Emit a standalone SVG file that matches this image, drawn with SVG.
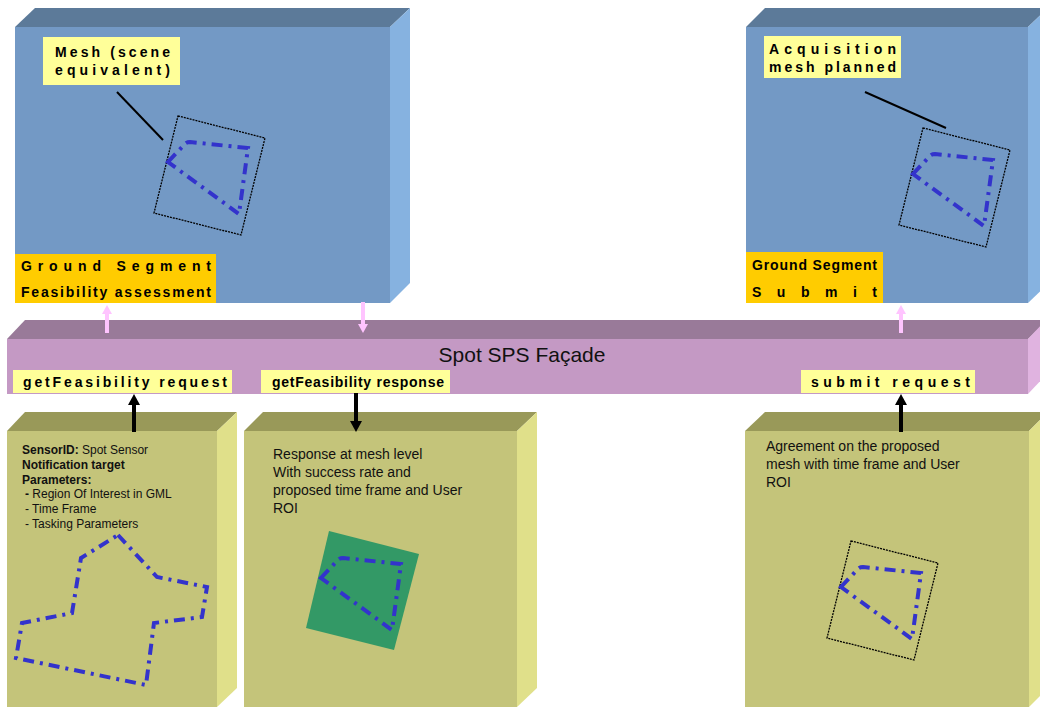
<svg xmlns="http://www.w3.org/2000/svg" xmlns:xlink="http://www.w3.org/1999/xlink" width="1040" height="707" viewBox="0 0 1040 707">
<style>
.bfront{fill:#7399C5}.btop{fill:#5C7A99}.bright{fill:#86B2E0}
.pfront{fill:#C499C4}.ptop{fill:#997A99}.pright{fill:#E0B3E0}
.ofront{fill:#C4C47A}.otop{fill:#999959}.oright{fill:#E0E08A}
.yl{fill:#FFFF99}.or{fill:#FFCC00}
.lbl{font-family:"Liberation Sans",Arial,sans-serif;font-weight:bold;font-size:14px;fill:#000}
.txt{font-family:"Liberation Sans",Arial,sans-serif;font-size:14px;fill:#111}
.sm{font-family:"Liberation Sans",Arial,sans-serif;font-size:12px;fill:#111}
.sq{fill:none;stroke:#000;stroke-width:1.3;stroke-dasharray:2 1}
.roi{fill:none;stroke:#3333CC;stroke-width:4;stroke-dasharray:11 6 3 6}
.lead{stroke:#000;stroke-width:2}
.pk{stroke:#FFC4FF;stroke-width:4;fill:none}
.bk{stroke:#000;stroke-width:4;fill:none}
</style>
<defs>
<marker id="ahb" markerUnits="userSpaceOnUse" markerWidth="12" markerHeight="12" viewBox="0 0 12 12" refX="0" refY="6" orient="auto"><path d="M0,0 L11,6 L0,12 z" fill="#000"/></marker>
<marker id="ahp" markerUnits="userSpaceOnUse" markerWidth="10" markerHeight="10" viewBox="0 0 10 10" refX="0" refY="5" orient="auto"><path d="M0,0 L9,5 L0,10 z" fill="#FFC4FF"/></marker>
<path id="roiShape" class="roi" d="M-10,46 L6,29 Q8,26 12,26 L70,32 L61,98 Z"/>
<g id="mesh"><polygon class="sq" points="0,0 87,22 63,119 -24,97"/><use xlink:href="#roiShape"/></g>
</defs>

<g id="ground-feasibility">
<polygon class="btop" points="15,27 35,8 410,8 390,27"/>
<polygon class="bright" points="390,27 410,8 410,283 390,303"/>
<rect class="bfront" x="15" y="27" width="375" height="276"/>
<rect class="yl" x="43" y="37" width="137" height="48"/>
<text class="lbl" x="55" y="57" textLength="115" lengthAdjust="spacing">Mesh (scene</text>
<text class="lbl" x="55" y="75" textLength="115" lengthAdjust="spacing">equivalent)</text>
<line class="lead" x1="117" y1="92" x2="163" y2="140"/>
<use xlink:href="#mesh" transform="translate(178,116)"/>
<rect class="or" x="15" y="254" width="201" height="49"/>
<text class="lbl" x="21" y="271" textLength="190" lengthAdjust="spacing">Ground Segment</text>
<text class="lbl" x="21" y="297" textLength="190" lengthAdjust="spacing">Feasibility assessment</text>
</g>

<g id="ground-submit">
<polygon class="btop" points="746,27 765,8 1048,8 1028,27"/>
<polygon class="bright" points="1028,27 1048,8 1048,284 1028,303"/>
<rect class="bfront" x="746" y="27" width="282" height="276"/>
<rect class="yl" x="764" y="36" width="137" height="42"/>
<text class="lbl" x="769" y="54" textLength="127" lengthAdjust="spacing">Acquisition</text>
<text class="lbl" x="769" y="72" textLength="127" lengthAdjust="spacing">mesh planned</text>
<line class="lead" x1="865" y1="92" x2="946" y2="128"/>
<use xlink:href="#mesh" transform="translate(923,128)"/>
<rect class="or" x="746" y="252" width="137" height="51"/>
<text class="lbl" x="752" y="270" textLength="125" lengthAdjust="spacing">Ground Segment</text>
<text class="lbl" x="752" y="297" textLength="125" lengthAdjust="spacing">Submit</text>
</g>

<g id="sps-facade">
<polygon class="ptop" points="7,339 25,320 1048,320 1028,339"/>
<polygon class="pright" points="1028,339 1046,320 1046,375 1028,394"/>
<rect class="pfront" x="7" y="339" width="1021" height="55"/>
<text x="522" y="362" text-anchor="middle" font-family="Liberation Sans, Arial, sans-serif" font-size="21" fill="#111">Spot SPS Façade</text>
<rect class="yl" x="13" y="370" width="219" height="23"/>
<text class="lbl" x="23" y="387" textLength="204" lengthAdjust="spacing">getFeasibility request</text>
<rect class="yl" x="261" y="370" width="189" height="23"/>
<text class="lbl" x="272" y="387" textLength="172" lengthAdjust="spacing">getFeasibility response</text>
<rect class="yl" x="801" y="370" width="174" height="23"/>
<text class="lbl" x="811" y="387" textLength="159" lengthAdjust="spacing">submit request</text>
</g>

<g id="request-params">
<polygon class="otop" points="7,431 25,412 237,412 217,431"/>
<polygon class="oright" points="217,431 237,412 237,688 217,707"/>
<rect class="ofront" x="7" y="431" width="210" height="276"/>
<text class="sm" x="22" y="454"><tspan font-weight="bold">SensorID:</tspan> Spot Sensor</text>
<text class="sm" x="22" y="469" font-weight="bold">Notification target</text>
<text class="sm" x="22" y="484" font-weight="bold">Parameters:</text>
<text class="sm" x="25" y="498"><tspan font-weight="bold">-</tspan> Region Of Interest in GML</text>
<text class="sm" x="25" y="513">- Time Frame</text>
<text class="sm" x="25" y="528">- Tasking Parameters</text>
<polygon class="roi" points="118,535 157,577 207,587 202,617 154,623 146,685 16,658 22,623 72,613 81,558"/>
</g>

<g id="response">
<polygon class="otop" points="244,431 263,412 537,412 517,431"/>
<polygon class="oright" points="517,431 537,412 537,688 517,707"/>
<rect class="ofront" x="244" y="431" width="273" height="276"/>
<text class="txt" x="273" y="459">Response at mesh level</text>
<text class="txt" x="273" y="477">With success rate and</text>
<text class="txt" x="273" y="495">proposed time frame and User</text>
<text class="txt" x="273" y="513">ROI</text>
<polygon points="329,531 419,554 394,650 306,628" fill="#339966"/>
<use xlink:href="#roiShape" transform="translate(331,532)"/>
</g>

<g id="agreement">
<polygon class="otop" points="745,431 765,412 1048,412 1029,431"/>
<polygon class="oright" points="1029,431 1048,412 1048,688 1029,707"/>
<rect class="ofront" x="745" y="431" width="284" height="276"/>
<text class="txt" x="766" y="451">Agreement on the proposed</text>
<text class="txt" x="766" y="469">mesh with time frame and User</text>
<text class="txt" x="766" y="487">ROI</text>
<use xlink:href="#mesh" transform="translate(851,541)"/>
</g>

<g id="connectors">
<line class="pk" x1="107" y1="333" x2="107" y2="314" marker-end="url(#ahp)"/>
<line class="pk" x1="363" y1="302" x2="363" y2="324" marker-end="url(#ahp)"/>
<line class="pk" x1="901" y1="333" x2="901" y2="314" marker-end="url(#ahp)"/>
<line class="bk" x1="134" y1="432" x2="134" y2="405" marker-end="url(#ahb)"/>
<line class="bk" x1="356" y1="393" x2="356" y2="421" marker-end="url(#ahb)"/>
<line class="bk" x1="901" y1="432" x2="901" y2="405" marker-end="url(#ahb)"/>
</g>
</svg>
